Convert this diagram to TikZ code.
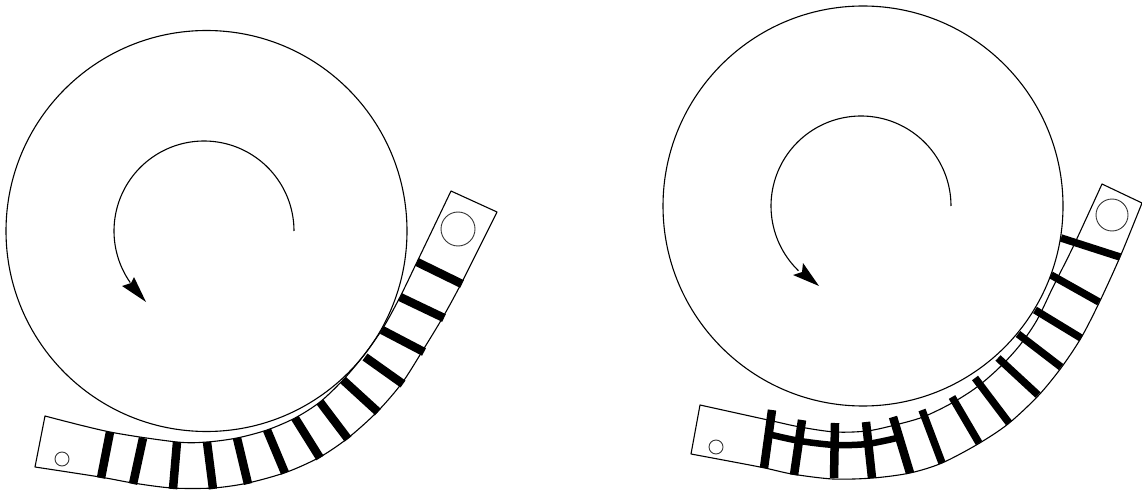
\documentclass[tikz,border=0pt]{standalone}
\tikzset{
  thinline/.style={draw=black,line width=1.1pt,line join=round},
  hole/.style={draw=black!80,line width=0.9pt},
  barline/.style={draw=black,line width=8.5pt},
  slimbar/.style={draw=black,line width=7.5pt},
  bandline/.style={draw=black,line width=6.5pt},
  headfill/.style={fill=black,draw=none}
}
\begin{document}
\begin{tikzpicture}[x=1pt,y=-1pt]
\useasboundingbox (0,0) rectangle (1142,494);
% left drawing
\draw[thinline] (206.5,231) circle[radius=200.5];
\draw[thinline] plot[smooth,samples=70,domain=0:-215] ({204+90*cos(\x)},{231+90*sin(\x)});
\fill[headfill] (146,302) -- (122,286) -- (131,283) -- (134,277) -- cycle;
\draw[thinline] plot[smooth] coordinates {(45,416) (110,432) (177,442) (207,442) (237,438) (267,430) (295,418) (320,402) (343,380) (364,355) (383,328) (400,297) (417,262) (451,191)}
  -- (497,212)
  -- plot[smooth] coordinates {(497,212) (462,282) (443,317) (423,350) (402,383) (377,412) (348,438) (320,457) (287,472) (248,483) (213,488) (172,488) (133,483) (100,477) (35,467)}
  -- cycle;
\foreach \a/\b/\c/\d in {110/432/101/478, 143/438/133/484, 177/442/173/489, 207/442/213/489, 237/438/248/484, 267/430/285/473, 295/418/320/458, 320/402/348/439, 343/380/378/412, 365/357/403/384, 382/330/424/352, 400/297/444/318, 417/262/462/284}
  \draw[barline] (\a,\b) -- (\c,\d);
\draw[hole] (62,459) circle[radius=7];
\draw[hole] (458,229) circle[radius=17];
% right drawing
\draw[thinline] (863,206) circle[radius=200];
\draw[thinline] plot[smooth,samples=70,domain=0:-226] ({861+90*cos(\x)},{206+90*sin(\x)});
\fill[headfill] (819,286) -- (793,275) -- (802,272) -- (803,263) -- cycle;
\draw[thinline] plot[smooth] coordinates {(700,405) (768,420) (800,427) (835,432) (867,431) (895,425) (923,417) (952,403) (977,387) (1000,367) (1020,345) (1037,320) (1053,287) (1073,247) (1102,184)}
  -- (1142,203)
  -- plot[smooth] coordinates {(1142,203) (1120,257) (1099,303) (1081,338) (1061,368) (1038,396) (1008,424) (978,444) (942,463) (910,473) (873,478) (833,479) (792,474) (760,467) (691,454)}
  -- cycle;
\foreach \a/\b/\c/\d in {1061/238/1120/257, 1051/275/1099/302, 1035/310/1081/338, 1018/334/1061/367, 998/358/1038/395, 975/378/1009/423, 952/397/979/443, 922/410/942/463}
  \draw[slimbar] (\a,\b) -- (\c,\d);
\foreach \a/\b/\c/\d in {893/417/910/473, 866/422/872/478, 835/423/834/478, 802/420/794/475, 772/410/764/468}
  \draw[barline] (\a,\b) -- (\c,\d);
\draw[bandline] plot[smooth] coordinates {(772,435) (800,441) (835,445) (867,444) (897,438)};
\draw[hole] (716,447) circle[radius=7];
\draw[hole] (1112,215) circle[radius=16];
\end{tikzpicture}
\end{document}
